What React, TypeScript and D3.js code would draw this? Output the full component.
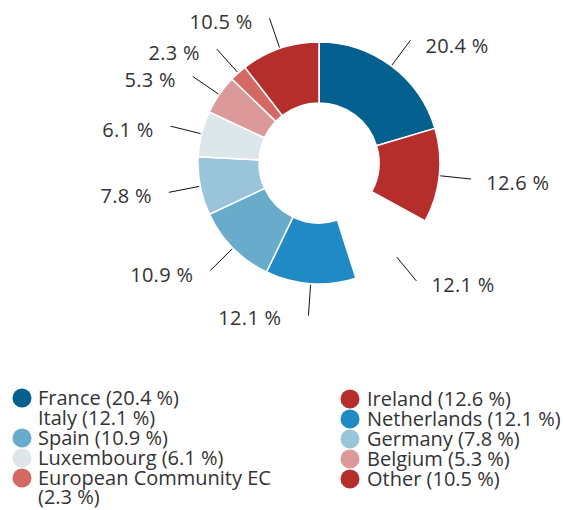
import React from "react";
import * as d3 from "d3";

const categories = ["France", "Ireland", "Italy", "Netherlands", "Spain", "Germany", "Luxembourg", "Belgium", "European Community EC", "Other"];
const values = [20.4, 12.6, 12.1, 12.1, 10.9, 7.8, 6.1, 5.3, 2.3, 10.5];
const colors = ["#03608f", "#b52e2c", "#ffffff", "#1f8ac3", "#68abcb", "#9ac4da", "#dde6eb", "#dc9999", "#d46862", "#b52e2c"];
const legendLeft = [0, 2, 4, 6, 8];
const legendRight = [1, 3, 5, 7, 9];

const W = 563;
const H = 510;
const CX = 319;
const CY = 163;
const R_OUT = 121;
const R_IN = 60;
const FONT = "'Open Sans', sans-serif";
const TEXT = "#333333";

const fmt = (v: number) => `${v.toFixed(1)} %`;

export default function App() {
  const pie = d3.pie<number>().sort(null).value((d) => d);
  const arcs = pie(values);
  const arc = d3.arc<d3.PieArcDatum<number>>().innerRadius(R_IN).outerRadius(R_OUT);

  const polar = (r: number, a: number) => [r * Math.sin(a), -r * Math.cos(a)];

  return (
    <>
      <style>{`body{margin:0}`}</style>
      <svg width={W} height={H} style={{ display: "block" }} fontFamily={FONT}>
        <g transform={`translate(${CX},${CY})`}>
          {arcs.map((a, i) => (
            <path key={i} d={arc(a) || ""} fill={colors[i]} stroke="#ffffff" strokeWidth={1.5} />
          ))}
          {arcs.map((a, i) => {
            const mid = (a.startAngle + a.endAngle) / 2;
            const [x1, y1] = polar(122, mid);
            const [x2, y2] = polar(153, mid);
            const s = Math.sin(mid);
            const right = s > 0;
            const extra = Math.abs(s) < 0.2 ? 10 : 0;
            const lx = x2 + (right ? 15 + extra : -17 - extra);
            const ly = y2 + (extra ? 2 : 4) + (right && Math.cos(mid) > 0 ? 2 : 0);
            return (
              <g key={`l${i}`}>
                <line x1={x1} y1={y1} x2={x2} y2={y2} stroke="#111" strokeWidth={1} />
                <text
                  x={lx}
                  y={ly}
                  dy="0.35em"
                  textAnchor={right ? "start" : "end"}
                  fontSize={20}
                  fill={TEXT}
                  letterSpacing={0.3}
                >
                  {fmt(values[i])}
                </text>
              </g>
            );
          })}
        </g>
        <g>
          {legendLeft.map((idx, row) => {
            const y = 398 + row * 20;
            const label = `${categories[idx]} (${fmt(values[idx])})`;
            const wrap = idx === 8;
            return (
              <g key={`ll${idx}`}>
                <circle cx={22} cy={y} r={9.5} fill={colors[idx]} />
                <text x={38} y={y} dy="0.35em" fontSize={20} fill={TEXT}>
                  {wrap ? `${categories[idx]}` : label}
                </text>
                {wrap && (
                  <text x={38} y={y + 19} dy="0.35em" fontSize={20} fill={TEXT}>
                    {`(${fmt(values[idx])})`}
                  </text>
                )}
              </g>
            );
          })}
          {legendRight.map((idx, row) => {
            const y = 399 + row * 20;
            return (
              <g key={`lr${idx}`}>
                <circle cx={350} cy={y} r={9.5} fill={colors[idx]} />
                <text x={367} y={y} dy="0.35em" fontSize={20} fill={TEXT}>
                  {`${categories[idx]} (${fmt(values[idx])})`}
                </text>
              </g>
            );
          })}
        </g>
      </svg>
    </>
  );
}
